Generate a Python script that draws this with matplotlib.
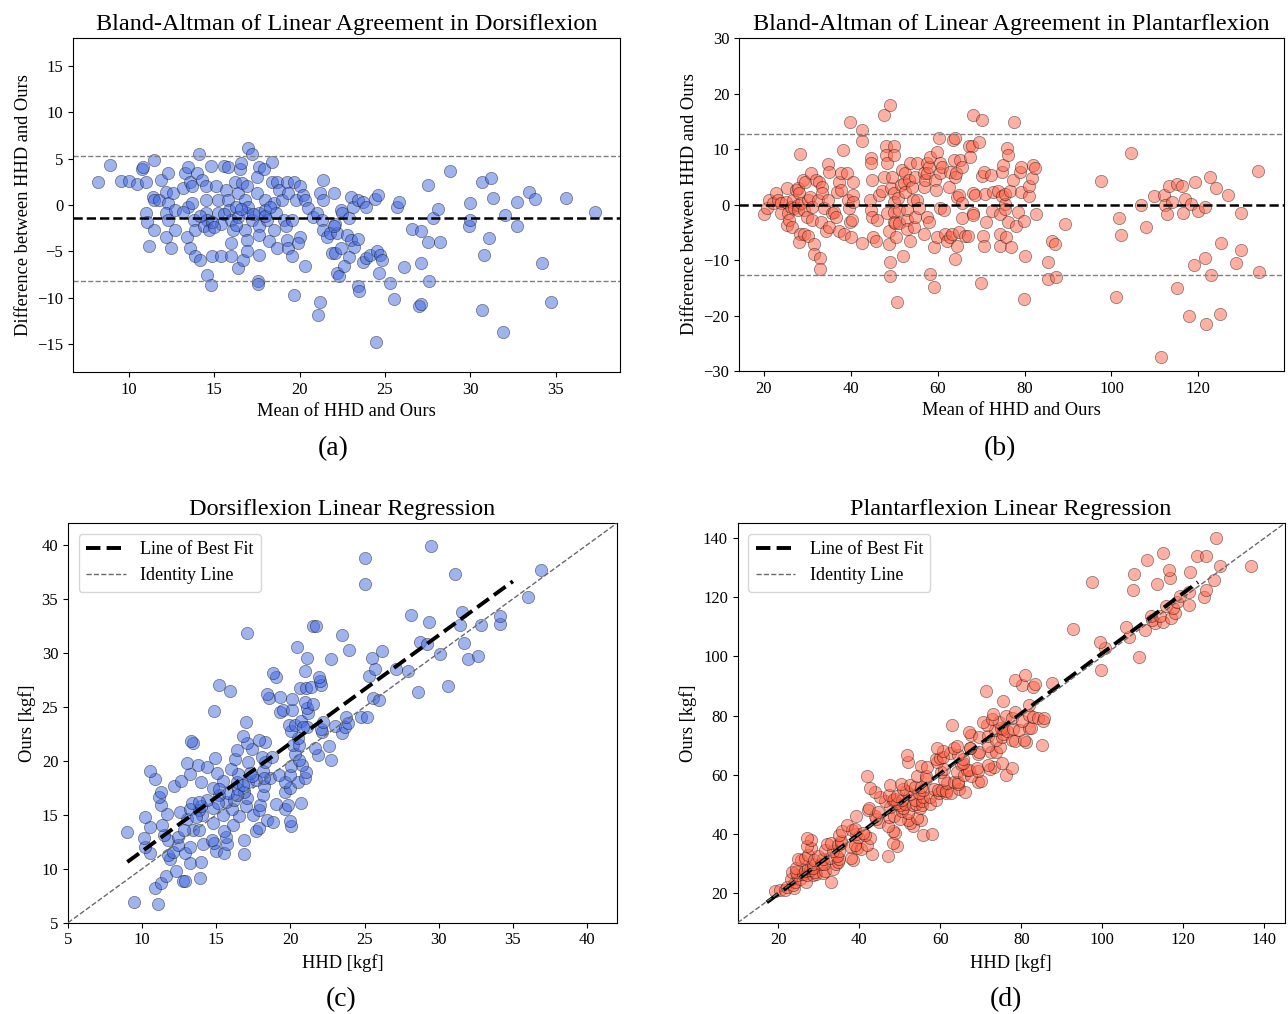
import numpy as np
import matplotlib
matplotlib.use("Agg")
import matplotlib.pyplot as plt

plt.rcParams['font.family'] = ['Liberation Serif', 'DejaVu Serif']
plt.rcParams['axes.unicode_minus'] = True

# --- Data: (mean of HHD and Ours, HHD - Ours) ---
dorsi_ba = np.array([
    (8.2, 2.5), (8.9, 4.3), (9.55, 2.6), (10.0, 2.6), (10.5, 2.25), (10.8, 3.9), (10.85, 4.05),
    (11.0, 2.5), (11.5, 4.8), (11.4, 0.9), (11.5, 0.5), (11.2, -4.4), (11.0, -0.9), (11.1, -1.8),
    (11.5, -2.7), (11.8, 0.5), (11.9, 2.7), (12.3, 3.4), (12.2, 1.4), (12.3, 0.2), (12.2, -0.9),
    (12.3, -1.6), (12.2, -3.4), (12.5, -4.6), (12.7, -2.7), (12.6, 1.25), (12.7, -0.5), (13.2, 1.8),
    (13.3, 3.4), (13.5, 4.1), (13.6, 2.5), (13.7, 2.0), (13.4, -3.4), (13.5, -0.2), (13.7, 0.2),
    (13.8, -1.6), (13.9, -2.7), (13.6, -4.6), (13.9, -5.5), (14.2, -5.9), (14.1, 5.5), (14.0, 3.4),
    (14.3, 2.7), (14.5, 2.0), (14.5, 0.5), (14.5, -0.9), (14.6, -1.6), (14.4, -2.3), (14.7, -2.7),
    (14.8, 4.2), (14.9, -5.5), (14.6, -7.5), (14.8, -8.6), (15.1, 2.0), (15.2, 0.5), (15.2, -0.9),
    (15.4, -2.0), (15.4, -5.5), (15.6, 4.2), (15.8, 4.1), (15.7, 1.6), (15.8, 0.5), (15.9, -0.5),
    (16.0, -1.6), (16.1, -2.7), (16.0, -4.1), (16.0, -5.5), (16.2, 2.5), (16.4, 1.25), (16.3, -0.2),
    (16.4, -1.25), (16.5, 3.9), (16.6, 4.5), (16.4, -6.8), (16.7, -5.9), (16.65, 2.4), (16.8, 0.5),
    (16.9, -0.9), (16.8, -2.7), (17.0, 6.1), (17.2, 5.5), (16.95, 2.0), (17.0, -0.2), (17.2, -1.6),
    (16.95, -3.75), (16.9, -5.0), (17.6, 4.1), (17.5, 3.0), (17.5, 1.25), (17.6, -0.9), (17.6, -2.3),
    (17.6, -3.2), (17.6, -5.4), (17.55, -8.2), (17.55, -8.5), (17.9, 3.9), (17.95, 0.5), (17.95, -0.5),
    (18.1, -1.6), (18.2, -3.9), (18.4, 4.6), (18.4, 2.5), (18.5, 0.2), (18.6, -0.9), (18.5, -2.7),
    (18.7, -4.6), (18.7, 2.5), (18.8, 1.6), (18.95, 0.5), (19.1, -1.6), (19.2, -2.3), (19.25, 2.5),
    (19.35, 1.25), (19.25, -3.75), (19.35, -4.6), (19.55, -5.5), (19.7, 2.5), (19.8, 0.5), (19.55, -1.6),
    (19.7, -9.75), (20.0, 2.1), (20.2, 1.1), (20.3, 0.5), (20.0, -3.4), (19.9, -4.1), (20.3, -6.6),
    (20.5, -0.35), (20.8, -1.25), (21.0, -0.9), (21.2, 1.25), (21.4, 2.7), (21.4, 0.5), (21.3, -1.6),
    (21.4, -2.7), (21.6, -3.4), (21.2, -10.5), (21.1, -11.8), (22.0, 1.25), (21.9, -5.2), (22.1, -5.2),
    (22.2, -7.3), (22.3, -7.7),
    (14.2, -1.2), (14.9, -1.8), (15.6, -1.0), (16.6, -0.4), (17.3, -1.0), (18.0, -1.2), (18.3, -0.2),
    (15.0, -2.4), (16.3, -2.2), (13.2, -0.8),
    (21.8, -3.0), (22.2, -3.0), (22.4, -0.5), (22.5, -0.9), (22.1, -2.0), (22.0, -2.3), (22.9, -1.4),
    (23.0, 0.9), (23.1, -0.2), (22.8, -3.2), (23.0, -3.75), (23.2, -4.5), (23.4, -3.7), (22.4, -4.6),
    (22.9, -5.6), (22.6, -6.6), (23.4, 0.5), (23.7, 0.35), (23.9, -0.25), (23.4, -8.75), (23.5, -9.3),
    (23.7, -6.1), (23.9, -5.7), (24.1, -5.4), (24.4, 0.7), (24.6, 1.07), (24.55, -5.0), (24.7, -5.4),
    (24.85, -5.9), (24.65, -7.3), (24.45, -14.75), (25.3, -8.4), (25.5, -10.1), (25.7, -0.2),
    (25.8, 0.3), (26.1, -6.7), (26.6, -2.6), (27.1, -2.75), (27.1, -6.3), (27.0, -10.9), (27.1, -10.7),
    (27.5, 2.2), (27.5, -4.0), (27.6, -8.2), (27.8, -1.4), (28.1, -0.4), (28.2, -4.0), (28.8, 3.7),
    (30.0, 0.2), (29.9, -2.3), (30.0, -1.6), (30.7, 2.5), (31.2, 2.9), (31.3, 0.8), (31.1, -3.5),
    (30.8, -5.4), (30.7, -11.3), (31.9, -13.7), (32.0, -1.1), (32.7, 0.3), (32.7, -2.25), (33.4, 1.4),
    (33.8, 0.7), (34.2, -6.2), (34.7, -10.4), (35.6, 0.8), (37.3, -0.8),
])

plantar_ba = np.array([
    (20.0, -1.75), (20.8, -0.7), (21.3, 0.8), (22.1, 0.2), (22.8, 2.0), (23.2, 0.8), (23.97, 0.2),
    (24.0, -1.6), (25.1, 0.5), (25.3, 2.9), (25.5, -1.6), (25.3, -3.7), (25.9, -2.8), (26.3, -0.4),
    (26.6, 0.8), (26.4, -4.0), (27.0, -0.7), (27.4, 2.6), (27.8, 2.9), (27.8, 0.0), (27.9, -1.0),
    (28.4, 9.1), (28.2, 2.0), (28.5, 0.2), (28.4, -5.3), (28.2, -6.8), (28.9, 4.4), (29.2, -1.0),
    (29.5, 4.1), (29.3, -5.3), (30.1, -5.6), (30.0, -2.2), (30.1, 0.8), (30.8, 5.6), (30.7, 1.4),
    (31.2, -0.4), (31.2, -2.8), (31.6, -7.1), (31.6, -8.9), (32.0, 4.4), (32.4, 0.8), (32.7, 4.1),
    (33.3, 3.2), (33.5, 2.0), (33.1, -3.1), (33.0, -9.6), (33.0, -11.6), (33.9, -0.7), (34.3, -4.7),
    (34.7, 0.8), (34.7, 7.3), (35.0, 5.9), (35.0, -4.0), (35.6, -1.6), (36.2, -1.3), (36.6, -2.2),
    (36.8, 2.3), (37.3, 4.1), (37.3, -4.7), (37.7, 5.6), (37.7, 2.6), (38.3, 9.8), (38.5, -5.3),
    (39.2, 5.6), (39.4, 0.8), (39.6, -0.7), (39.8, -3.1), (40.0, -5.9), (39.8, 14.8), (40.6, 4.1),
    (40.6, 1.7), (40.4, -2.8), (40.6, 0.5), (42.7, 13.4), (42.7, 11.4), (42.7, -6.9), (44.4, 0.8),
    (44.6, 8.3), (44.7, 7.4), (45.0, 4.4), (44.7, -1.0), (45.0, -2.2), (45.2, -5.9), (45.7, -6.5),
    (46.1, -2.8), (46.5, 1.7), (47.3, 2.5), (47.6, 16.2), (49.0, 18.0), (48.0, 10.5), (48.0, 8.9),
    (48.4, 7.4), (47.6, 5.0), (48.4, -1.6), (49.2, 2.9), (48.8, -4.7), (48.8, -7.1), (49.0, -10.4),
    (49.0, -12.8), (49.9, 10.5), (49.9, 8.9), (49.6, 5.0), (49.9, 2.0), (49.9, 0.5), (49.9, -1.3),
    (49.9, -3.1), (50.2, -3.4), (50.3, -5.9), (50.7, -17.6), (50.8, 1.1), (51.1, -1.0), (51.1, -3.4),
    (51.5, 3.5), (51.8, 6.2), (52.1, -9.2), (52.2, 3.8), (52.6, 5.6), (52.6, 2.3), (53.0, -1.0),
    (53.0, -2.8), (53.0, -4.4), (53.4, 4.4), (53.6, -6.5), (53.7, 7.4), (54.1, 3.2), (54.4, 0.8),
    (54.5, -4.0), (54.9, 5.0), (54.9, -2.2), (55.3, 7.4), (55.3, 0.8), (55.6, -0.7), (56.8, 3.2),
    (56.8, 5.6), (57.2, 4.4), (56.8, -5.3), (57.6, 7.4), (57.6, 5.6), (58.0, 6.8), (57.6, -2.2),
    (58.0, -3.1), (58.2, -12.5), (58.3, 8.6), (59.1, -7.7), (59.2, -14.9), (59.5, 4.4), (59.7, 2.6),
    (59.8, 9.5), (59.8, -5.9), (60.2, 12.0), (60.5, 5.6), (60.6, 7.4), (60.6, -0.7), (61.0, 6.8),
    (61.4, -1.0), (61.8, -5.3), (62.1, -6.5), (62.5, 3.2), (62.9, 5.9), (62.9, -5.9), (63.3, -5.3),
    (63.5, 11.7), (64.0, 12.0), (63.7, 8.0), (64.0, 5.0), (64.3, 5.6), (64.4, 1.4), (64.8, 1.7),
    (64.8, -5.0), (64.4, -7.4), (64.0, -9.8), (65.2, 8.0), (65.6, 6.8), (65.6, 0.2), (65.6, -2.5),
    (66.3, -5.6), (67.1, 10.5), (67.9, 10.5), (67.5, 8.6), (68.2, 2.0), (68.6, 1.7), (68.2, -1.6),
    (68.2, 16.2), (70.1, 15.3), (69.5, 11.3), (67.0, -5.6), (68.2, -1.9), (70.1, 5.1), (70.7, 5.9),
    (70.8, 1.9), (70.5, -5.6), (70.7, -7.4), (69.9, -14.2), (71.2, -3.2), (72.2, 5.3), (72.4, -1.1),
    (72.7, 2.2), (73.9, 2.5), (74.3, -1.7), (74.3, -5.3), (74.3, -7.4), (74.7, 5.9), (74.7, 1.6),
    (75.0, 7.1), (75.4, 0.1), (75.4, -0.8), (75.6, 1.9), (76.0, 10.1), (76.2, 8.9), (76.6, 2.5),
    (76.2, -3.2), (75.8, -5.9), (76.8, -7.7), (77.3, 4.4), (77.6, 14.9), (78.1, -3.8), (78.5, -1.4),
    (78.9, 5.9), (79.1, 6.8), (79.2, 2.2), (79.8, -2.9), (80.2, -9.2), (79.8, -17.0), (81.1, 1.6),
    (81.1, 3.4), (81.7, 4.7), (81.9, 7.1), (82.3, 6.5), (82.7, -1.7), (85.3, -10.3), (85.3, -13.5),
    (86.3, -6.6), (87.0, -7.1), (87.3, -13.0), (89.4, -3.5), (97.6, 4.2), (101.0, -16.6),
    (101.8, -2.4), (102.3, -5.5), (104.4, 9.2), (106.7, 0.0), (108.0, -4.1), (109.8, 1.45),
    (111.3, -27.5), (112.1, 1.75), (112.2, -0.06), (112.8, -1.7), (113.2, 3.4), (114.0, 0.5),
    (115.0, 3.7), (115.0, -15.0), (116.3, 3.3), (116.5, -1.45), (117.0, 1.0), (117.8, -20.1),
    (118.3, 0.1), (118.9, -10.9), (119.3, 4.0), (119.8, -1.1), (121.6, -0.4), (121.6, -9.7),
    (121.8, -21.6), (122.6, 5.0), (122.9, -12.7), (124.1, 3.0), (125.0, -19.8), (125.2, -6.9),
    (126.7, 1.75), (128.7, -10.6), (129.8, -1.5), (129.8, -8.2), (133.7, 6.0), (134.0, -12.1),
])

# bias and limits of agreement as drawn
dorsi_bias, dorsi_loa = -1.42, (5.30, -8.14)
plantar_bias, plantar_loa = 0.0, (12.75, -12.75)

# regression lines as drawn: slope, intercept, x range
dorsi_fit = (1.0, 1.63, (9.0, 35.0))
plantar_fit = (1.017, -0.6, (17.2, 123.6))

dorsi_hhd = dorsi_ba[:, 0] + dorsi_ba[:, 1] / 2
dorsi_ours = dorsi_ba[:, 0] - dorsi_ba[:, 1] / 2
plantar_hhd = plantar_ba[:, 0] + plantar_ba[:, 1] / 2
plantar_ours = plantar_ba[:, 0] - plantar_ba[:, 1] / 2

BLUE = 'royalblue'
RED = 'tomato'
TITLE_FS = 17.5
LABEL_FS = 13.3
TICK_FS = 12
DOT = dict(s=78, alpha=0.5, edgecolors='k', linewidths=0.5)

fig = plt.figure(figsize=(12.88, 10.14), dpi=100)


def bland_altman(ax, pts, bias, loa, color, title):
    ax.scatter(pts[:, 0], pts[:, 1], color=color, **DOT)
    ax.axhline(bias, color='k', linestyle='--', linewidth=1.8)
    ax.axhline(loa[0], color='gray', linestyle='--', linewidth=1)
    ax.axhline(loa[1], color='gray', linestyle='--', linewidth=1)
    ax.set_title(title, fontsize=TITLE_FS)
    ax.set_xlabel('Mean of HHD and Ours', fontsize=LABEL_FS)
    ax.set_ylabel('Difference between HHD and Ours', fontsize=LABEL_FS)
    ax.tick_params(labelsize=TICK_FS)


def regression(ax, hhd, ours, fit, lims, color, title):
    ax.scatter(hhd, ours, color=color, **DOT)
    slope, icpt, (x0, x1) = fit
    xs = np.array([x0, x1])
    ax.plot(xs, slope * xs + icpt, color='k', linestyle='--', linewidth=2.8,
            label='Line of Best Fit', zorder=3)
    ax.plot(lims, lims, color='dimgray', linestyle='--', linewidth=1,
            label='Identity Line', zorder=3)
    ax.set_xlim(lims)
    ax.set_ylim(lims)
    ax.set_title(title, fontsize=TITLE_FS)
    ax.set_xlabel('HHD [kgf]', fontsize=LABEL_FS)
    ax.set_ylabel('Ours [kgf]', fontsize=LABEL_FS)
    ax.tick_params(labelsize=TICK_FS)
    ax.legend(loc='upper left', fontsize=13, handlelength=2.2,
              borderaxespad=0.6)


ax_a = fig.add_axes([0.0567, 0.6331, 0.4247, 0.3294])
bland_altman(ax_a, dorsi_ba, dorsi_bias, dorsi_loa, BLUE,
             'Bland-Altman of Linear Agreement in Dorsiflexion')
ax_a.set_ylim(-18, 18)
ax_a.set_yticks([-15, -10, -5, 0, 5, 10, 15])

ax_b = fig.add_axes([0.5738, 0.6341, 0.4231, 0.3284])
bland_altman(ax_b, plantar_ba, plantar_bias, plantar_loa, RED,
             'Bland-Altman of Linear Agreement in Plantarflexion')
ax_b.set_ylim(-30, 30)

ax_c = fig.add_axes([0.0528, 0.0900, 0.4260, 0.3939])
regression(ax_c, dorsi_hhd, dorsi_ours, dorsi_fit, (5, 42), BLUE,
           'Dorsiflexion Linear Regression')
ax_c.set_xticks([5, 10, 15, 20, 25, 30, 35, 40])
ax_c.set_yticks([5, 10, 15, 20, 25, 30, 35, 40])

ax_d = fig.add_axes([0.5727, 0.0900, 0.4247, 0.3939])
regression(ax_d, plantar_hhd, plantar_ours, plantar_fit, (10, 145), RED,
           'Plantarflexion Linear Regression')
ax_d.set_xticks([20, 40, 60, 80, 100, 120, 140])
ax_d.set_yticks([20, 40, 60, 80, 100, 120, 140])

# panel letters
for x, y, s in [(0.2585, 0.558, '(a)'), (0.776, 0.558, '(b)'),
                (0.265, 0.014, '(c)'), (0.781, 0.014, '(d)')]:
    fig.text(x, y, s, fontsize=20, ha='center', va='center')

fig.savefig('out.png', dpi=100)
